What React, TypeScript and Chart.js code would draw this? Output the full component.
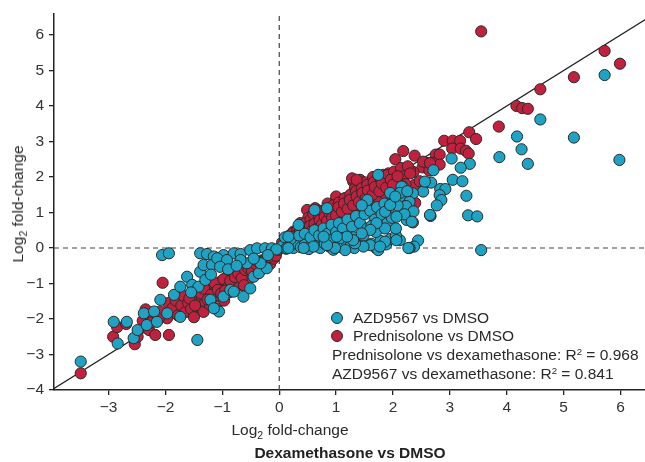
import React, { useEffect, useRef } from "react";
import { Chart, registerables } from "chart.js";

Chart.register(...registerables);

// ---------- data ----------
const xTicks = [-3, -2, -1, 0, 1, 2, 3, 4, 5, 6];
const yTicks = [-4, -3, -2, -1, 0, 1, 2, 3, 4, 5, 6];
const xRange = [-3.96, 6.43];
const yRange = [-4, 6.59];

const seriesNames = ["AZD9567 vs DMSO", "Prednisolone vs DMSO"];
const r2Labels = ["Prednisolone vs dexamethasone", "AZD9567 vs dexamethasone"];
const r2Values = ["0.968", "0.841"];

const prednisolonePoints: number[][] = [
  // upper outliers
  [3.55, 6.1], [5.72, 5.55], [5.99, 5.19], [5.18, 4.81], [4.59, 4.47], [4.17, 4.0], [4.27, 3.94], [4.37, 3.92],
  [3.86, 3.42], [3.34, 3.26], [3.46, 3.07], [2.9, 3.02], [3.05, 3.02], [3.18, 3.02], [3.04, 2.8], [3.19, 2.8],
  [3.28, 2.74], [3.33, 2.66], [2.18, 2.73], [2.38, 2.6], [2.04, 2.5], [2.75, 2.63], [2.82, 2.63], [2.58, 2.4],
  [2.69, 2.4], [2.82, 2.35], [2.52, 2.27], [2.64, 2.18], [2.36, 2.14], [2.22, 2.08], [2.12, 2.12], [2.38, 1.78],
  [2.47, 1.88], [2.39, 1.27], [1.3, 1.87], [1.42, 1.92], [1.33, 1.68], [1.83, 2.06], [1.92, 2.1], [2.15, 2.1],
  [2.3, 2.2], [0.49, 1.07], [0.63, 1.12], [2.53, 2.43], [2.65, 2.39],
  [0.37, 0.7], [0.25, 0.46], [0.51, 0.85], [1.16, 1.4], [0.98, 1.3], [0.7, 1.05], [0.85, 1.25], [1.5, 1.85],
  [1.65, 2.0], [1.0, 1.45], [1.28, 1.96], [1.36, 1.92],
  // positive core
  [0.05, 0.15], [0.08, 0.02], [0.12, 0.28], [0.15, 0.1], [0.18, 0.35], [0.2, 0.18], [0.24, 0.42], [0.27, 0.25],
  [0.3, 0.08], [0.32, 0.5], [0.35, 0.3], [0.38, 0.62], [0.4, 0.4], [0.43, 0.2], [0.46, 0.7], [0.48, 0.52],
  [0.52, 0.35], [0.55, 0.8], [0.58, 0.6], [0.6, 0.95], [0.63, 0.45], [0.66, 0.72], [0.7, 0.88], [0.73, 0.55],
  [0.76, 1.02], [0.79, 0.8], [0.82, 0.62], [0.86, 1.1], [0.89, 0.9], [0.92, 0.7], [0.95, 1.2], [0.98, 0.98],
  [1.02, 0.8], [1.05, 1.28], [1.08, 1.08], [1.12, 0.9], [1.15, 1.4], [1.18, 1.18], [1.22, 0.98], [1.25, 1.5],
  [1.28, 1.25], [1.32, 1.05], [1.35, 1.6], [1.38, 1.35], [1.42, 1.15], [1.45, 1.68], [1.48, 1.45], [1.52, 1.22],
  [1.55, 1.78], [1.58, 1.55], [1.62, 1.35], [1.66, 1.85], [1.7, 1.62], [1.74, 1.42], [1.78, 1.95], [1.82, 1.72],
  [1.86, 1.52], [1.9, 2.05], [1.94, 1.82], [1.98, 1.6], [2.02, 2.15], [2.06, 1.92], [2.1, 1.7], [2.14, 2.25],
  [2.18, 2.02], [2.22, 1.8], [2.26, 2.3], [2.3, 2.1],
  [0.1, 0.05], [0.14, 0.2], [0.22, 0.12], [0.26, 0.32], [0.33, 0.22], [0.36, 0.45], [0.42, 0.3], [0.44, 0.55],
  [0.5, 0.42], [0.54, 0.62], [0.57, 0.48], [0.62, 0.68], [0.68, 0.58], [0.71, 0.78], [0.75, 0.66], [0.8, 0.88],
  [0.84, 0.76], [0.88, 1.0], [0.93, 0.85], [0.97, 1.1], [1.0, 0.92], [1.04, 1.15], [1.1, 1.02], [1.14, 1.25],
  [1.2, 1.1], [1.24, 1.35], [1.3, 1.2], [1.36, 1.45], [1.4, 1.3], [1.46, 1.55], [1.52, 1.4], [1.56, 1.62],
  [1.64, 1.5], [1.68, 1.72], [1.76, 1.6], [1.8, 1.82], [1.88, 1.7], [1.96, 1.92], [2.0, 1.78], [2.08, 2.02],
  // negative outliers
  [-3.49, -3.53], [-2.05, -0.98], [-2.92, -2.5], [-2.85, -2.23], [-2.69, -2.14], [-2.54, -2.71], [-2.49, -2.5],
  [-2.35, -1.73], [-2.32, -1.92], [-2.29, -2.31], [-2.18, -2.45], [-1.94, -2.45], [-2.09, -1.79], [-1.97, -1.98],
  [-1.85, -1.75], [-1.79, -1.37], [-1.74, -1.51], [-1.62, -1.79], [-1.56, -1.61], [-1.42, -1.75], [-2.4, -2.05],
  [-2.25, -2.1], [-2.12, -2.0],
  // negative core
  [-1.95, -1.55], [-1.88, -1.7], [-1.82, -1.48], [-1.78, -1.9], [-1.72, -1.62], [-1.68, -1.35], [-1.65, -1.8],
  [-1.6, -1.55], [-1.55, -1.72], [-1.52, -1.3], [-1.5, -1.95], [-1.46, -1.48], [-1.42, -1.62], [-1.4, -1.2],
  [-1.36, -1.38], [-1.33, -1.8], [-1.3, -1.52], [-1.27, -1.1], [-1.25, -1.3], [-1.22, -1.6], [-1.18, -1.42],
  [-1.15, -1.05], [-1.12, -1.22], [-1.1, -1.7], [-1.06, -1.35], [-1.03, -0.95], [-1.0, -1.12], [-0.97, -1.48],
  [-0.94, -0.85], [-0.92, -1.02], [-0.88, -1.25], [-0.85, -0.78], [-0.82, -0.95], [-0.8, -1.15], [-0.76, -0.7],
  [-0.73, -0.88], [-0.7, -1.05], [-0.67, -0.62], [-0.64, -0.78], [-0.61, -0.95], [-0.58, -0.55], [-0.55, -0.7],
  [-0.52, -0.85], [-0.49, -0.48], [-0.46, -0.62], [-0.43, -0.75], [-0.4, -0.4], [-0.37, -0.55], [-0.34, -0.65],
  [-0.31, -0.35], [-0.28, -0.45], [-0.25, -0.55], [-0.22, -0.28], [-0.19, -0.38], [-0.16, -0.45], [-0.13, -0.22],
  [-0.1, -0.3], [-0.07, -0.18], [-0.04, -0.1],
  [-1.38, -1.28], [-1.32, -1.15], [-1.2, -1.32], [-1.14, -0.98], [-1.08, -1.18], [-0.98, -0.88], [-0.9, -1.1],
  [-0.86, -0.92], [-0.78, -0.82], [-0.72, -0.72], [-0.66, -0.85], [-0.6, -0.62], [-0.54, -0.58], [-0.48, -0.65],
  [-0.42, -0.45], [-0.36, -0.4], [-0.3, -0.5], [-0.24, -0.32], [-0.18, -0.25], [-0.12, -0.15], [-0.06, -0.22],
  [-0.02, -0.05], [-1.58, -1.42], [-1.48, -1.62], [-1.26, -1.45], [-1.02, -1.28], [-0.95, -1.2], [-0.62, -1.05],
];

const azdPoints: number[][] = [
  // positive outliers
  [5.72, 4.87], [4.59, 3.62], [4.18, 3.14], [5.18, 3.11], [4.26, 2.78], [3.87, 2.56], [4.37, 2.37], [5.98, 2.48],
  [3.03, 2.52], [3.35, 2.37], [3.19, 2.26], [2.71, 2.19], [3.05, 1.92], [3.22, 1.88], [2.57, 1.84], [2.67, 1.84],
  [2.17, 1.73], [2.83, 1.66], [2.92, 1.66], [2.53, 1.59], [2.35, 1.54], [2.82, 1.49], [2.85, 1.35], [3.29, 1.47],
  [2.12, 1.45], [2.29, 1.3], [2.23, 1.18], [2.77, 1.2], [2.36, 1.03], [3.32, 0.92], [3.48, 0.89], [2.66, 0.9],
  [2.24, 0.79], [2.35, 0.72], [2.12, 0.22], [2.44, 0.21], [2.37, 0.04], [2.29, 0.0], [3.55, -0.06], [1.74, 2.06],
  [2.15, 1.73],
  // positive core
  [0.05, 0.05], [0.12, -0.02], [0.18, 0.08], [0.25, 0.0], [0.3, 0.12], [0.38, 0.02], [0.45, 0.1], [0.52, -0.03],
  [0.58, 0.15], [0.65, 0.05], [0.72, 0.0], [0.8, 0.12], [0.88, 0.04], [0.95, -0.05], [1.02, 0.1], [1.1, 0.02],
  [1.18, 0.18], [1.25, 0.05], [1.32, 0.0], [1.4, 0.15], [1.5, 0.08], [1.62, 0.12], [1.7, 0.0], [1.78, 0.2],
  [1.88, 0.1], [1.95, 0.25], [2.05, 0.35],
  [0.1, 0.3], [0.2, 0.25], [0.35, 0.35], [0.45, 0.4], [0.55, 0.3], [0.62, 0.5], [0.7, 0.35], [0.78, 0.55],
  [0.85, 0.4], [0.92, 0.65], [1.0, 0.45], [1.05, 0.7], [1.12, 0.55], [1.2, 0.8], [1.28, 0.6], [1.35, 0.9],
  [1.42, 0.7], [1.5, 0.95], [1.55, 0.55], [1.6, 1.05], [1.68, 0.8], [1.72, 1.15], [1.8, 0.95], [1.85, 1.25],
  [1.92, 1.05], [2.0, 1.35], [2.08, 1.2], [2.12, 1.55], [1.7, 0.45], [1.48, 0.35], [1.9, 0.7], [1.98, 0.85],
  [1.62, 0.62], [1.3, 0.3], [1.08, 0.28], [0.9, 0.22], [2.2, 0.95], [2.05, 0.55],
  [0.34, 0.65], [0.62, 1.07], [0.84, 1.12], [1.55, 1.35], [1.95, 1.55], [2.25, 1.6], [1.45, 1.2],
  [1.74, -0.06], [1.86, 0.18], [1.6, 0.08], [1.48, 0.04], [1.33, 0.13], [1.16, -0.06], [0.98, 0.0], [0.84, 0.08],
  [2.06, 0.22], [0.16, 0.32], [0.13, -0.01], [1.86, 1.02], [1.95, 1.21], [2.04, 1.45], [2.06, 0.88], [1.86, 0.55],
  [1.71, 0.7], [1.6, 0.51], [1.45, 0.41], [1.3, 0.22], [1.19, 0.32], [1.01, 0.32], [0.78, 0.32], [0.6, 0.04],
  [0.43, 0.0], [0.16, 0.0], [1.77, 0.04], [2.27, 0.0], [2.33, 0.74], [2.65, 0.93], [2.56, 1.87],
  // negative
  [-1.39, -0.15], [-1.27, -0.17], [-1.15, -0.24], [-0.98, -0.2], [-0.8, -0.15], [-0.68, -0.17], [-0.51, -0.06],
  [-0.39, -0.01], [-0.25, -0.01], [-0.13, -0.01], [-0.05, -0.04],
  [-2.06, -0.2], [-1.94, -0.15], [-1.44, -2.59], [-3.49, -3.2], [-2.91, -2.08], [-2.68, -2.08], [-2.84, -2.69],
  [-2.56, -2.54], [-2.49, -2.31], [-2.33, -2.17], [-2.38, -1.84], [-2.2, -1.79], [-2.15, -2.08], [-2.09, -1.46],
  [-1.97, -1.84], [-1.85, -1.32], [-1.74, -1.94], [-1.74, -1.09], [-1.62, -0.81], [-1.53, -1.04], [-1.42, -1.09],
  [-1.39, -0.67], [-1.33, -0.48], [-1.18, -0.48], [-1.09, -0.29], [-1.21, -1.46], [-1.06, -1.79], [-1.15, -1.7],
  [-0.98, -1.37], [-0.86, -1.18], [-0.8, -1.23], [-0.63, -1.37], [-0.51, -1.14], [-0.45, -0.81], [-0.36, -0.71],
  [-0.22, -0.57], [-0.33, -0.43], [-0.57, -0.43], [-0.68, -0.34], [-0.92, -0.34], [-1.04, -0.53],
  [-1.3, -0.9], [-1.2, -0.75], [-0.9, -0.6], [-0.75, -0.5], [-0.45, -0.3], [-0.2, -0.2], [-1.55, -1.25],
];

// ---------- styling ----------
const FONT = "'Liberation Sans', Arial, Helvetica, sans-serif";
const TEAL = "#1ea3c4";
const RED = "#c2213d";
const EDGE = "#2a2a2a";
const fmt = (v: number) => (v < 0 ? "\u2212" + Math.abs(v) : String(v));

export default function App() {
  const ref = useRef<HTMLCanvasElement | null>(null);

  useEffect(() => {
    if (!ref.current) return;
    const toXY = (arr: number[][]) => arr.map(([x, y]) => ({ x, y }));
    const lineStyle = {
      showLine: true,
      pointRadius: 0,
      pointHoverRadius: 0,
      fill: false,
    };
    const chart = new Chart(ref.current, {
      type: "scatter",
      data: {
        datasets: [
          {
            label: seriesNames[0],
            data: toXY(azdPoints),
            backgroundColor: TEAL,
            borderColor: EDGE,
            borderWidth: 1,
            pointRadius: 5.6,
            order: 0,
          },
          {
            label: seriesNames[1],
            data: toXY(prednisolonePoints),
            backgroundColor: RED,
            borderColor: EDGE,
            borderWidth: 1,
            pointRadius: 5.6,
            order: 1,
          },
          {
            label: "identity",
            data: [
              { x: -4, y: -4 },
              { x: 7, y: 7 },
            ],
            borderColor: "#222",
            borderWidth: 1.2,
            ...lineStyle,
            order: 2,
          } as any,
          {
            label: "x0",
            data: [
              { x: 0, y: yRange[0] },
              { x: 0, y: yRange[1] },
            ],
            borderColor: "#444",
            borderWidth: 1.2,
            borderDash: [5, 4],
            ...lineStyle,
            order: 3,
          } as any,
          {
            label: "y0",
            data: [
              { x: xRange[0], y: 0 },
              { x: xRange[1], y: 0 },
            ],
            borderColor: "#444",
            borderWidth: 1.2,
            borderDash: [5, 4],
            ...lineStyle,
            order: 3,
          } as any,
        ],
      },
      options: {
        responsive: false,
        animation: false,
        devicePixelRatio: 1,
        layout: { autoPadding: false, padding: { top: 14, right: 0, left: 0, bottom: 0 } },
        plugins: { legend: { display: false }, tooltip: { enabled: false } },
        scales: {
          x: {
            type: "linear",
            min: xRange[0],
            max: xRange[1],
            afterFit: (s: any) => {
              s.height = 72;
              s.paddingLeft = 0;
              s.paddingRight = 0;
            },
            afterBuildTicks: (s: any) => {
              s.ticks = xTicks.map((v) => ({ value: v }));
            },
            ticks: {
              color: "#333",
              font: { family: FONT, size: 15.5 },
              padding: 3,
              maxRotation: 0,
              autoSkip: false,
              callback: (v: any) => fmt(Number(v)),
            },
            grid: { drawOnChartArea: false, tickLength: 5, color: "#222", lineWidth: 1.3 },
            border: { color: "#222", width: 1.5 },
          },
          y: {
            type: "linear",
            min: yRange[0],
            max: yRange[1],
            afterFit: (s: any) => {
              s.width = 54;
              s.paddingTop = 0;
              s.paddingBottom = 0;
            },
            afterBuildTicks: (s: any) => {
              s.ticks = yTicks.map((v) => ({ value: v }));
            },
            ticks: {
              color: "#333",
              font: { family: FONT, size: 15.5 },
              padding: 5,
              autoSkip: false,
              callback: (v: any) => fmt(Number(v)),
            },
            grid: { drawOnChartArea: false, tickLength: 5, color: "#222", lineWidth: 1.3 },
            border: { color: "#222", width: 1.5 },
          },
        },
      },
    } as any);
    return () => chart.destroy();
  }, []);

  const text: React.CSSProperties = {
    position: "absolute",
    fontFamily: FONT,
    fontSize: 15.5,
    color: "#2a2a2a",
    whiteSpace: "nowrap",
    lineHeight: "18px",
  };
  const sub: React.CSSProperties = { fontSize: "0.68em", verticalAlign: "-0.35em", lineHeight: 0 };
  const sup: React.CSSProperties = { fontSize: "0.62em", verticalAlign: "0.55em", lineHeight: 0 };
  const dot = (color: string, cx: number, cy: number): React.CSSProperties => ({
    position: "absolute",
    left: cx - 6,
    top: cy - 6,
    width: 10,
    height: 10,
    borderRadius: "50%",
    background: color,
    border: `1px solid ${EDGE}`,
  });

  return (
    <div style={{ position: "absolute", left: 0, top: 0, width: 645, height: 462, background: "#fff" }}>
      <canvas ref={ref} width={645} height={462} style={{ display: "block" }} />
      {/* legend */}
      <div style={dot(TEAL, 337, 318)} />
      <div style={{ ...text, left: 353, top: 309 }}>{seriesNames[0]}</div>
      <div style={dot(RED, 337, 336)} />
      <div style={{ ...text, left: 353, top: 327 }}>{seriesNames[1]}</div>
      <div style={{ ...text, left: 332, top: 346 }}>
        {r2Labels[0]}: R<span style={sup}>2</span> = {r2Values[0]}
      </div>
      <div style={{ ...text, left: 332, top: 365 }}>
        {r2Labels[1]}: R<span style={sup}>2</span> = {r2Values[1]}
      </div>
      {/* x axis titles */}
      <div style={{ ...text, left: 290, top: 421, transform: "translateX(-50%)" }}>
        Log<span style={sub}>2</span> fold-change
      </div>
      <div style={{ ...text, left: 350, top: 444, transform: "translateX(-50%)", fontWeight: "bold", color: "#222" }}>
        Dexamethasone vs DMSO
      </div>
      {/* y axis title */}
      <div
        style={{
          ...text,
          left: 18,
          top: 204,
          transform: "translate(-50%, -50%) rotate(-90deg)",
        }}
      >
        Log<span style={sub}>2</span> fold-change
      </div>
    </div>
  );
}
